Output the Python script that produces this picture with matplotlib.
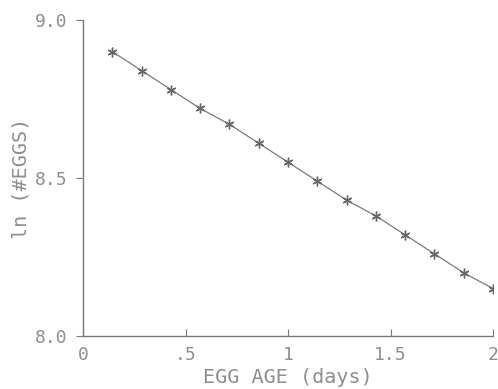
import numpy as np
import matplotlib.pyplot as plt

# data
egg_age = [1/7, 2/7, 3/7, 4/7, 5/7, 6/7, 1.0, 8/7, 9/7, 10/7, 11/7, 12/7, 13/7, 2.0]
ln_eggs = [8.90, 8.84, 8.78, 8.72, 8.67, 8.61, 8.55, 8.49, 8.43, 8.38, 8.32, 8.26, 8.20, 8.15]

xticks = [0, 0.5, 1, 1.5, 2]
xtick_labels = ['0', '.5', '1', '1.5', '2']
yticks = [8.0, 8.5, 9.0]
ytick_labels = ['8.0', '8.5', '9.0']

gray = '#7a7a7a'
txt = '#8e8e8e'
plt.rcParams['font.family'] = 'DejaVu Sans Mono'

fig = plt.figure(figsize=(4.98, 3.89), dpi=100)
ax = fig.add_axes([0.1667, 0.1362, 0.8233, 0.8124])

ax.plot(egg_age, ln_eggs, color=gray, lw=0.9, marker=(6, 2, 0),
        markersize=7, markeredgewidth=1.0, markeredgecolor='#666666')

ax.set_xlim(0, 2)
ax.set_ylim(8.0, 9.0)
ax.set_xticks(xticks)
ax.set_xticklabels(xtick_labels)
ax.set_yticks(yticks)
ax.set_yticklabels(ytick_labels)

for s in ['top', 'right']:
    ax.spines[s].set_visible(False)
for s in ['left', 'bottom']:
    ax.spines[s].set_color(gray)
    ax.spines[s].set_linewidth(1.0)

ax.tick_params(axis='x', direction='in', length=5, pad=7, colors=gray,
               labelcolor=txt, labelsize=13)
ax.tick_params(axis='y', direction='out', length=5, pad=6, colors=gray,
               labelcolor=txt, labelsize=13)

ax.set_xlabel('EGG AGE (days)', color=txt, fontsize=14.5, labelpad=3)
ax.set_ylabel('ln (#EGGS)', color=txt, fontsize=14.5, labelpad=3)

fig.savefig('out.png', dpi=100)
